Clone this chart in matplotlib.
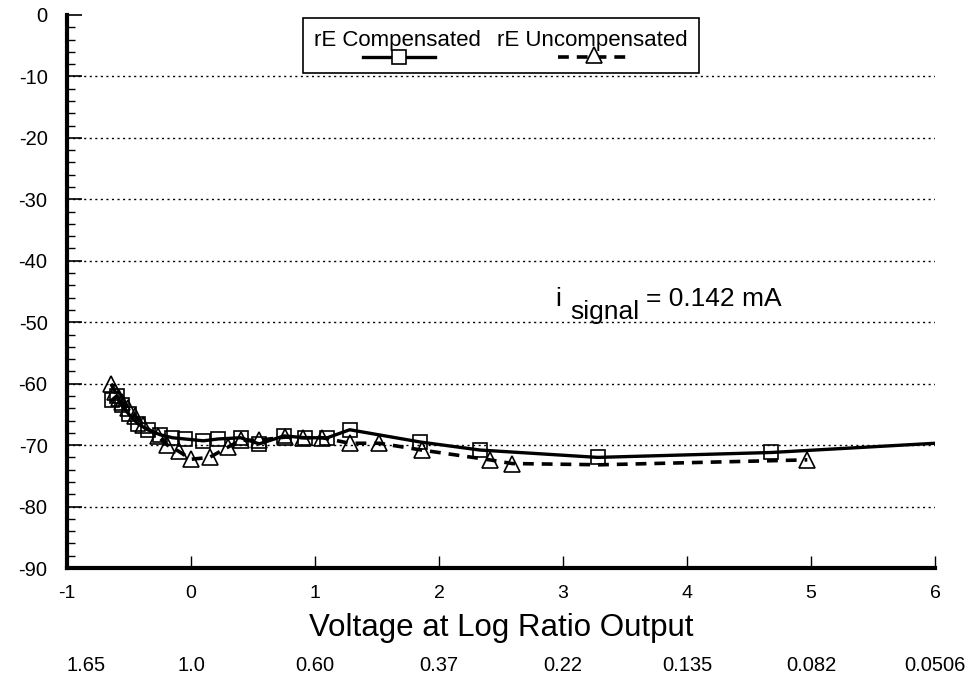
import matplotlib.pyplot as plt
from matplotlib.transforms import blended_transform_factory
from matplotlib.patches import Rectangle
from matplotlib.lines import Line2D

plt.rcParams['font.family'] = ['Liberation Sans', 'DejaVu Sans']
plt.rcParams['axes.unicode_minus'] = False

# rE Compensated (squares)
comp_x = [-0.64, -0.60, -0.56, -0.50, -0.43, -0.35, -0.25, -0.15, -0.05, 0.10,
          0.22, 0.40, 0.55, 0.75, 0.92, 1.10, 1.28, 1.85, 2.33, 3.28, 4.68, 6.0]
comp_y = [-62.7, -62.0, -63.5, -65.0, -66.5, -67.5, -68.3, -68.8, -69.0, -69.3,
          -69.0, -68.8, -69.8, -68.5, -68.8, -68.8, -67.5, -69.5, -70.8, -72.0, -71.2, -69.7]

# rE Uncompensated (triangles)
unc_x = [-0.645, -0.61, -0.58, -0.56, -0.51, -0.45, -0.39, -0.27, -0.19, -0.10, 0.0,
         0.15, 0.30, 0.40, 0.55, 0.76, 0.90, 1.06, 1.28, 1.52, 1.86, 2.41, 2.59, 3.30, 4.97]
unc_y = [-60.0, -61.4, -62.3, -63.0, -64.0, -65.2, -66.7, -68.5, -70.0, -71.0, -72.3,
         -72.0, -70.3, -69.2, -69.2, -68.7, -68.8, -68.8, -69.7, -69.7, -70.8, -72.4, -73.0, -73.2, -72.4]

x_ticks = [-1, 0, 1, 2, 3, 4, 5, 6]
ratio_labels = ['1.65', '1.0', '0.60', '0.37', '0.22', '0.135', '0.082', '0.0506']

fig = plt.figure(figsize=(9.7, 6.78), dpi=100)
ax = fig.add_axes([67 / 970, 110 / 678, 868 / 970, 553 / 678])

ax.plot(comp_x, comp_y, color='black', lw=2.4, marker='s', ms=10,
        mfc='none', mec='black', mew=1.2, markevery=list(range(len(comp_x) - 1)), zorder=3)
unc_mask = [i for i in range(len(unc_x)) if unc_x[i] != 3.30]
ax.plot(unc_x, unc_y, color='black', lw=2.6, ls=(0, (3, 2.2)), marker='^', ms=11,
        mfc='none', mec='black', mew=1.2, markevery=unc_mask, zorder=3)

ax.set_xlim(-1, 6)
ax.set_ylim(-90, 0)
ax.set_xticks(x_ticks)
ax.set_yticks(range(-90, 1, 10))
ax.set_yticks(range(-90, 1, 2), minor=True)
for v in range(-80, 0, 10):
    ax.axhline(v, color='black', lw=1.0, ls=(0, (1.5, 2.5)), zorder=1)

ax.spines['top'].set_visible(False)
ax.spines['right'].set_visible(False)
ax.spines['left'].set_linewidth(3)
ax.spines['bottom'].set_linewidth(3)
ax.tick_params(axis='y', which='major', direction='in', length=11, width=1.2, labelsize=14.5, pad=14)
ax.tick_params(axis='y', which='minor', direction='in', length=6, width=1.0)
ax.tick_params(axis='x', which='major', direction='in', length=9, width=1.0, labelsize=14, pad=12)
ax.tick_params(axis='x', which='minor', bottom=False)

ax.set_xlabel('Voltage at Log Ratio Output', fontsize=22.5, labelpad=8)

trans = blended_transform_factory(ax.transData, ax.transAxes)
for xv, lab in zip(x_ticks, ratio_labels):
    ha = 'left' if xv == x_ticks[0] else 'center'
    ax.text(xv, -0.176, lab, transform=trans, ha=ha, va='center', fontsize=14.5)

# annotation
ax.text(2.935, -47.4, 'i', fontsize=19, ha='left', va='baseline')
ax.text(3.056, -49.5, 'signal', fontsize=19, ha='left', va='baseline')
ax.text(3.67, -47.4, '= 0.142 mA', fontsize=19, ha='left', va='baseline')

# legend drawn manually
fx = lambda px: px / 970
fy = lambda py: 1 - py / 678
fig.add_artist(Rectangle((fx(303), fy(73)), fx(699) - fx(303), fy(18) - fy(73),
                         transform=fig.transFigure, fill=True, facecolor='white',
                         edgecolor='black', lw=1.2, zorder=5))
fig.text(fx(397), fy(46), 'rE Compensated', ha='center', va='baseline', fontsize=16, zorder=6)
fig.text(fx(592), fy(46), 'rE Uncompensated', ha='center', va='baseline', fontsize=16, zorder=6)
fig.add_artist(Line2D([fx(363), fx(435)], [fy(57), fy(57)], transform=fig.transFigure,
                      color='black', lw=2.4, zorder=6))
fig.add_artist(Line2D([fx(399)], [fy(57)], transform=fig.transFigure, marker='s', ms=10,
                      mfc='white', mec='black', mew=1.2, zorder=7))
fig.add_artist(Line2D([fx(558), fx(630)], [fy(57), fy(57)], transform=fig.transFigure,
                      color='black', lw=2.6, ls=(0, (3, 2.2)), zorder=6))
fig.add_artist(Line2D([fx(594)], [fy(55)], transform=fig.transFigure, marker='^', ms=11,
                      mfc='white', mec='black', mew=1.2, zorder=7))

fig.savefig('out.png', dpi=100)
